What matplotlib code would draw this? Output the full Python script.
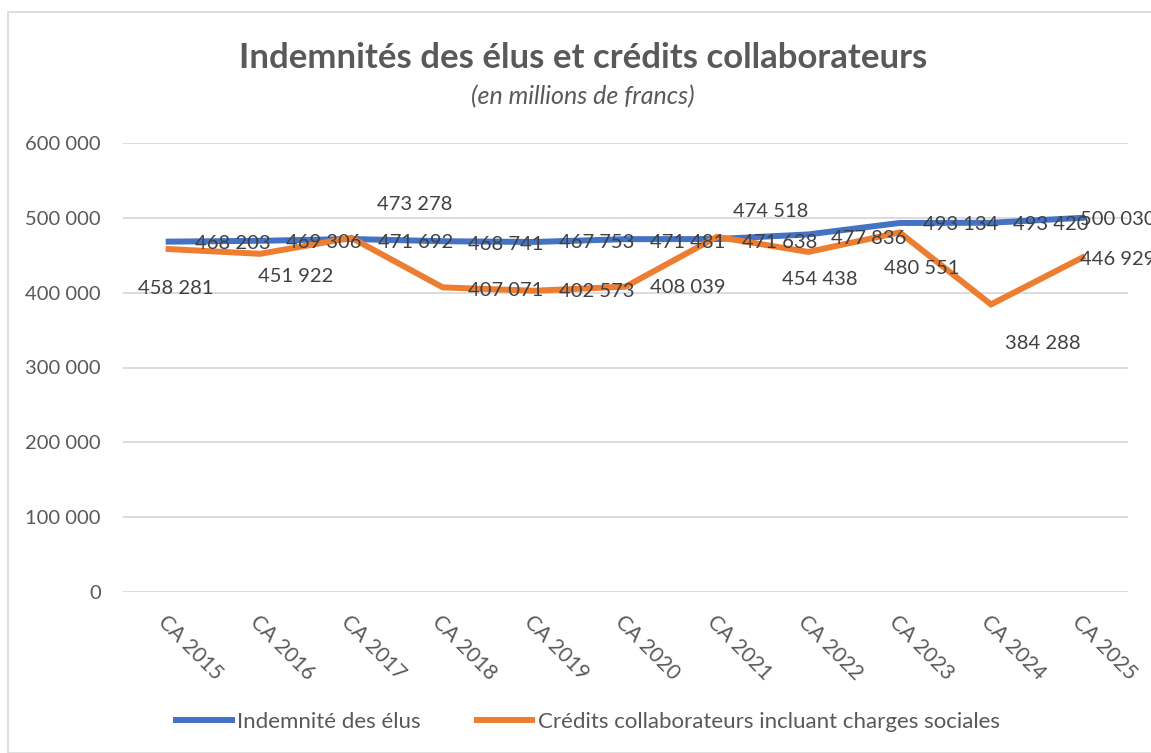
import matplotlib.pyplot as plt
from matplotlib.patches import Rectangle
from matplotlib.ticker import FuncFormatter

plt.rcParams['font.family'] = ['Lato', 'DejaVu Sans']

# données
annees = ['CA 2015', 'CA 2016', 'CA 2017', 'CA 2018', 'CA 2019', 'CA 2020',
          'CA 2021', 'CA 2022', 'CA 2023', 'CA 2024', 'CA 2025']
indemnites = [468203, 469306, 471692, 468741, 467753, 471481,
              471638, 477836, 493134, 493420, 500030]
credits = [458281, 451922, 473278, 407071, 402573, 408039,
           474518, 454438, 480551, 384288, 446929]

# décalage des étiquettes (pixels, centre du texte par rapport au point)
decal_bleu = [(64, -2), (64, -2), (64, -3), (63, -3), (63, -1), (62, -3),
              (63, -3), (60, -4), (61, -2), (60, -2), (35, -2)]
decal_orange = [(7, -39), (36, -23), (63, 33), (63, -3), (63, -1), (62, -1),
                (54, 25), (12, -28), (22, -36), (52, -39), (35, -2)]

bleu = '#4472C4'
orange = '#ED7D31'
gris = '#595959'


def fmt(v, pos=None):
    return f'{int(v):,}'.replace(',', ' ')


fig = plt.figure(figsize=(11.51, 7.53), dpi=100)
ax = fig.add_axes([123 / 1151, 1 - 592 / 753, (1128 - 123) / 1151, (592 - 143) / 753])

# cadre du graphique
fig.patches.append(Rectangle((8 / 1151, 0), 1.1, 1 - 12 / 753, transform=fig.transFigure,
                             fill=False, edgecolor='#D9D9D9', lw=1.2))

x = range(len(annees))
ax.plot(x, indemnites, color=bleu, lw=4.3, solid_joinstyle='miter', label='Indemnité des élus', zorder=3)
ax.plot(x, credits, color=orange, lw=4.3, solid_joinstyle='miter',
        label='Crédits collaborateurs incluant charges sociales', zorder=4)

for i, v in enumerate(indemnites):
    ax.annotate(fmt(v), (i, v), xytext=decal_bleu[i], textcoords='offset pixels',
                ha='center', va='center', fontsize=14.5, color='#404040', zorder=5,
                annotation_clip=False)
for i, v in enumerate(credits):
    ax.annotate(fmt(v), (i, v), xytext=decal_orange[i], textcoords='offset pixels',
                ha='center', va='center', fontsize=14.5, color='#404040', zorder=5,
                annotation_clip=False)

ax.set_xlim(-0.5, len(annees) - 0.5)
ax.set_ylim(0, 600000)
ax.set_yticks(range(0, 600001, 100000))
ax.yaxis.set_major_formatter(FuncFormatter(fmt))
ax.grid(axis='y', color='#D9D9D9', lw=1.3)
ax.set_axisbelow(True)
for s in ax.spines.values():
    s.set_visible(False)
ax.tick_params(axis='y', length=0, pad=16, labelsize=14.5, labelcolor=gris)
ax.tick_params(axis='x', length=0, pad=14, labelsize=15, labelcolor=gris)
ax.set_xticks(list(x))
ax.set_xticklabels(annees, rotation=-45, ha='left', rotation_mode='anchor')

fig.text(583 / 1151, 1 - 58 / 753, 'Indemnités des élus et crédits collaborateurs',
         ha='center', va='center', fontsize=25, fontweight='bold', color=gris)
fig.text(583 / 1151, 1 - 97 / 753, '(en millions de francs)',
         ha='center', va='center', fontsize=18, style='italic', color=gris)

fig.legend(loc='center', bbox_to_anchor=(588 / 1151, 1 - 722 / 753), ncol=2, frameon=False,
           fontsize=16, labelcolor=gris, handlelength=2.5, handletextpad=0.25, columnspacing=2.5)

fig.savefig('out.png', dpi=100)
